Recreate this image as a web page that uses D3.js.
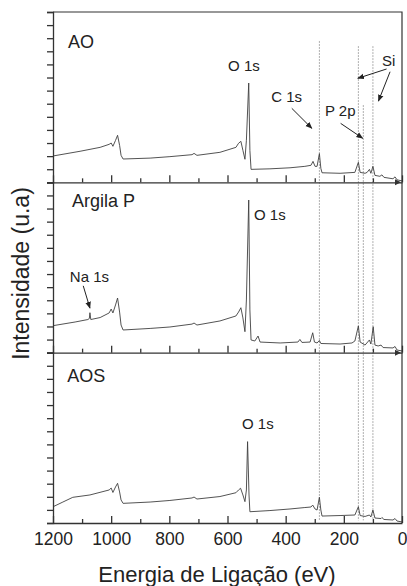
<!DOCTYPE html>
<html>
<head>
<meta charset="utf-8">
<script src="https://cdn.jsdelivr.net/npm/d3@7"></script>
<style>
  body { margin: 0; background: #fff; }
  svg { display: block; font-family: "Liberation Sans", Arial, sans-serif; }
</style>
</head>
<body>
<div class="chart-container"></div>
<script>
// XPS survey spectra, energy (eV) vs intensity (a.u., one unit = one left tick)
const panelNames = ['AO', 'Argila P', 'AOS']

const spectrumAO = [
  [1200, 2.01], [1107, 2.37], [1038, 2.67], [1007, 2.9], [1000, 3.0], [994, 2.75],
  [985, 3.2], [978, 3.59], [971, 2.82], [966, 2.06], [959, 1.78], [866, 1.85],
  [798, 1.96], [722, 2.11], [715, 2.21], [705, 2.06], [626, 2.29], [571, 2.67],
  [562, 2.98], [554, 3.13], [547, 2.44], [540, 1.76], [535, 3.21], [527, 7.58],
  [523, 2.44], [519, 0.99], [454, 1.03], [385, 1.11], [334, 1.22], [313, 1.3],
  [306, 1.6], [299, 1.22], [292, 1.22], [284, 2.19], [279, 1.07], [275, 0.73],
  [213, 0.69], [162, 0.76], [150, 1.53], [144, 0.76], [127, 0.69], [120, 0.76],
  [112, 0.99], [107, 0.69], [100, 1.22], [93, 0.53], [76, 0.46], [69, 0.57],
  [62, 0.38], [31, 0.27], [24, 0.42], [17, 0.19], [0, 0.11],
]

const spectrumArgila = [
  [1200, 2.06], [1124, 2.34], [1080, 2.53], [1075, 2.61], [1073, 3.05], [1070, 2.53],
  [1038, 2.68], [1007, 3.03], [1000, 3.33], [994, 3.03], [985, 3.64], [978, 4.17],
  [971, 3.1], [966, 2.11], [959, 1.73], [866, 1.85], [798, 1.96], [722, 2.18],
  [715, 2.26], [705, 2.11], [626, 2.42], [571, 2.8], [562, 3.1], [554, 3.43],
  [547, 2.65], [540, 1.6], [535, 4.02], [527, 11.65], [523, 3.26], [519, 0.97],
  [506, 0.89], [495, 1.27], [488, 0.81], [419, 0.74], [358, 0.81], [351, 1.01],
  [344, 0.78], [316, 0.81], [307, 1.52], [301, 0.81], [292, 0.74], [284, 0.93],
  [279, 0.7], [213, 0.66], [172, 0.74], [162, 0.89], [150, 2.04], [144, 0.81],
  [127, 0.58], [112, 0.97], [107, 0.66], [99, 1.98], [93, 0.58], [82, 0.51],
  [72, 0.58], [65, 0.39], [31, 0.36], [24, 0.47], [17, 0.2], [0, 0.13],
]

const spectrumAOS = [
  [1200, 1.24], [1166, 1.6], [1132, 1.96], [1073, 2.14], [1007, 2.52], [1000, 2.67],
  [994, 2.33], [985, 2.75], [978, 3.03], [971, 2.37], [966, 1.76], [959, 1.5],
  [866, 1.6], [798, 1.72], [722, 1.91], [715, 1.98], [705, 1.83], [626, 2.02],
  [571, 2.31], [562, 2.52], [555, 2.65], [547, 2.14], [540, 1.63], [535, 2.52],
  [531, 6.21], [526, 2.14], [523, 0.86], [454, 0.95], [385, 1.07], [334, 1.18],
  [313, 1.22], [307, 1.37], [299, 1.07], [292, 0.99], [284, 1.96], [279, 0.99],
  [275, 0.53], [213, 0.57], [162, 0.61], [150, 1.24], [144, 0.57], [127, 0.5],
  [112, 0.61], [107, 0.46], [100, 0.99], [93, 0.38], [72, 0.34], [69, 0.42],
  [62, 0.27], [31, 0.23], [24, 0.34], [17, 0.15], [0, 0.08],
]

const spectra = [spectrumAO, spectrumArgila, spectrumAOS]

// reference lines (eV) and the level (AO panel units) where each starts
const refLinesEV = [284, 150, 133, 100]
const refLinesTop = [10.79, 10.4, 5.9, 10.4]

const xTicksMajor = [1200, 1000, 800, 600, 400, 200, 0]
const xTicksAll = d3.range(0, 1201, 100)

const width = 407
const height = 586
const plotLeft = 53
const plotRight = 402
const plotTop = 12
const plotBottom = 523
const panelH = (plotBottom - plotTop) / 3
const fontFamily = '"Liberation Sans", Arial, Helvetica, sans-serif'

const svg = d3
  .select('.chart-container')
  .append('svg')
  .attr('width', width)
  .attr('height', height)
  .attr('font-family', fontFamily)

const x = d3.scaleLinear().domain([1200, 0]).range([plotLeft, plotRight])

const yScales = panelNames.map((name, i) =>
  d3
    .scaleLinear()
    .domain([0, 13])
    .range([plotTop + panelH * (i + 1), plotTop + panelH * i])
)

const defs = svg.append('defs')
defs
  .append('marker')
  .attr('id', 'head')
  .attr('viewBox', '0 0 10 10')
  .attr('refX', 9)
  .attr('refY', 5)
  .attr('markerWidth', 7)
  .attr('markerHeight', 7)
  .attr('markerUnits', 'userSpaceOnUse')
  .attr('orient', 'auto')
  .append('path')
  .attr('d', 'M0,1 L10,5 L0,9 Z')
  .attr('fill', '#222')

// dotted reference lines across all panels
refLinesEV.forEach((ev, i) => {
  svg
    .append('line')
    .attr('x1', x(ev))
    .attr('x2', x(ev))
    .attr('y1', yScales[0](refLinesTop[i]))
    .attr('y2', yScales[2](0.2))
    .attr('stroke', '#9a9a9a')
    .attr('stroke-width', 0.8)
    .attr('stroke-dasharray', '2,1')
})

// spectra
const line = d3.line().x((d) => x(d[0]))

spectra.forEach((data, i) => {
  svg
    .append('path')
    .datum(data)
    .attr('fill', 'none')
    .attr('stroke', '#404040')
    .attr('stroke-width', 0.9)
    .attr('stroke-linejoin', 'round')
    .attr('d', line.y((d) => yScales[i](d[1])))
})

// axes per panel
yScales.forEach((y, i) => {
  const yAxis = svg
    .append('g')
    .attr('transform', `translate(${plotLeft},0)`)
    .call(d3.axisLeft(y).tickValues(d3.range(0, 14)).tickSize(6).tickFormat(''))
  yAxis.selectAll('line, path').attr('stroke', '#333').attr('stroke-width', 1.3)

  const base = y.range()[0]
  const xAxis = svg
    .append('g')
    .attr('transform', `translate(0,${base})`)
    .call(d3.axisTop(x).tickValues(xTicksAll).tickSizeOuter(0).tickFormat(''))
  xAxis.selectAll('.tick line').attr('y2', (d) => (d % 200 === 0 ? -7 : -4))
  xAxis.selectAll('line, path').attr('stroke', '#333').attr('stroke-width', 1.3)

  if (i < 2) {
    svg
      .append('path')
      .attr('d', `M${plotRight - 7},${base - 3} L${plotRight - 1},${base} L${plotRight - 7},${base + 3} Z`)
      .attr('fill', '#333')
  }
})

// top and right frame
svg
  .append('path')
  .attr('d', `M${plotLeft},${plotTop} H${plotRight} V${plotBottom}`)
  .attr('fill', 'none')
  .attr('stroke', '#333')
  .attr('stroke-width', 1.2)

// tick labels under the last panel
const labels = svg
  .append('g')
  .attr('transform', `translate(0,${plotBottom})`)
  .call(
    d3
      .axisBottom(x)
      .tickValues(xTicksMajor)
      .tickSize(0)
      .tickPadding(10)
      .tickFormat(d3.format('d'))
  )
labels.select('.domain').remove()
labels
  .attr('font-family', fontFamily)
  .selectAll('text')
  .attr('font-size', 17.5)
  .attr('fill', '#222')

// axis titles
svg
  .append('text')
  .attr('x', 217)
  .attr('y', 582)
  .attr('text-anchor', 'middle')
  .attr('font-size', 22)
  .attr('fill', '#222')
  .text('Energia de Ligação (eV)')

svg
  .append('text')
  .attr('transform', `translate(29,${(plotTop + plotBottom) / 2 + 6}) rotate(-90)`)
  .attr('text-anchor', 'middle')
  .attr('font-size', 23)
  .attr('fill', '#222')
  .text('Intensidade (u.a)')

// panel names
const nameSpots = [[1148, 10.25], [1135, 11.1], [1151, 10.74]]
panelNames.forEach((name, i) => {
  svg
    .append('text')
    .attr('x', x(nameSpots[i][0]))
    .attr('y', yScales[i](nameSpots[i][1]))
    .attr('font-size', 18)
    .attr('fill', '#222')
    .text(name)
})

// peak annotations: panel, text, energy, level
const notes = [
  [0, 'O 1s', 598, 8.5],
  [0, 'C 1s', 450, 6.13],
  [0, 'P 2p', 265, 5.07],
  [0, 'Si', 69, 8.9],
  [1, 'O 1s', 509, 10.12],
  [1, 'Na 1s', 1142, 5.39],
  [2, 'O 1s', 550, 7.15],
]
notes.forEach(([p, t, ev, v]) => {
  svg
    .append('text')
    .attr('x', x(ev))
    .attr('y', yScales[p](v))
    .attr('font-size', 15)
    .attr('fill', '#222')
    .text(t)
})

// arrows: panel, from (eV, level) to (eV, level)
const arrows = [
  [0, 379, 5.65, 310, 4.12],
  [0, 211, 4.5, 135, 3.36],
  [0, 53, 8.65, 152, 7.94],
  [0, 41, 8.44, 81, 6.2],
  [1, 1096, 5.1, 1073, 3.4],
]
arrows.forEach(([p, e1, v1, e2, v2]) => {
  svg
    .append('line')
    .attr('x1', x(e1))
    .attr('y1', yScales[p](v1))
    .attr('x2', x(e2))
    .attr('y2', yScales[p](v2))
    .attr('stroke', '#222')
    .attr('stroke-width', 1)
    .attr('marker-end', 'url(#head)')
})
</script>
</body>
</html>
